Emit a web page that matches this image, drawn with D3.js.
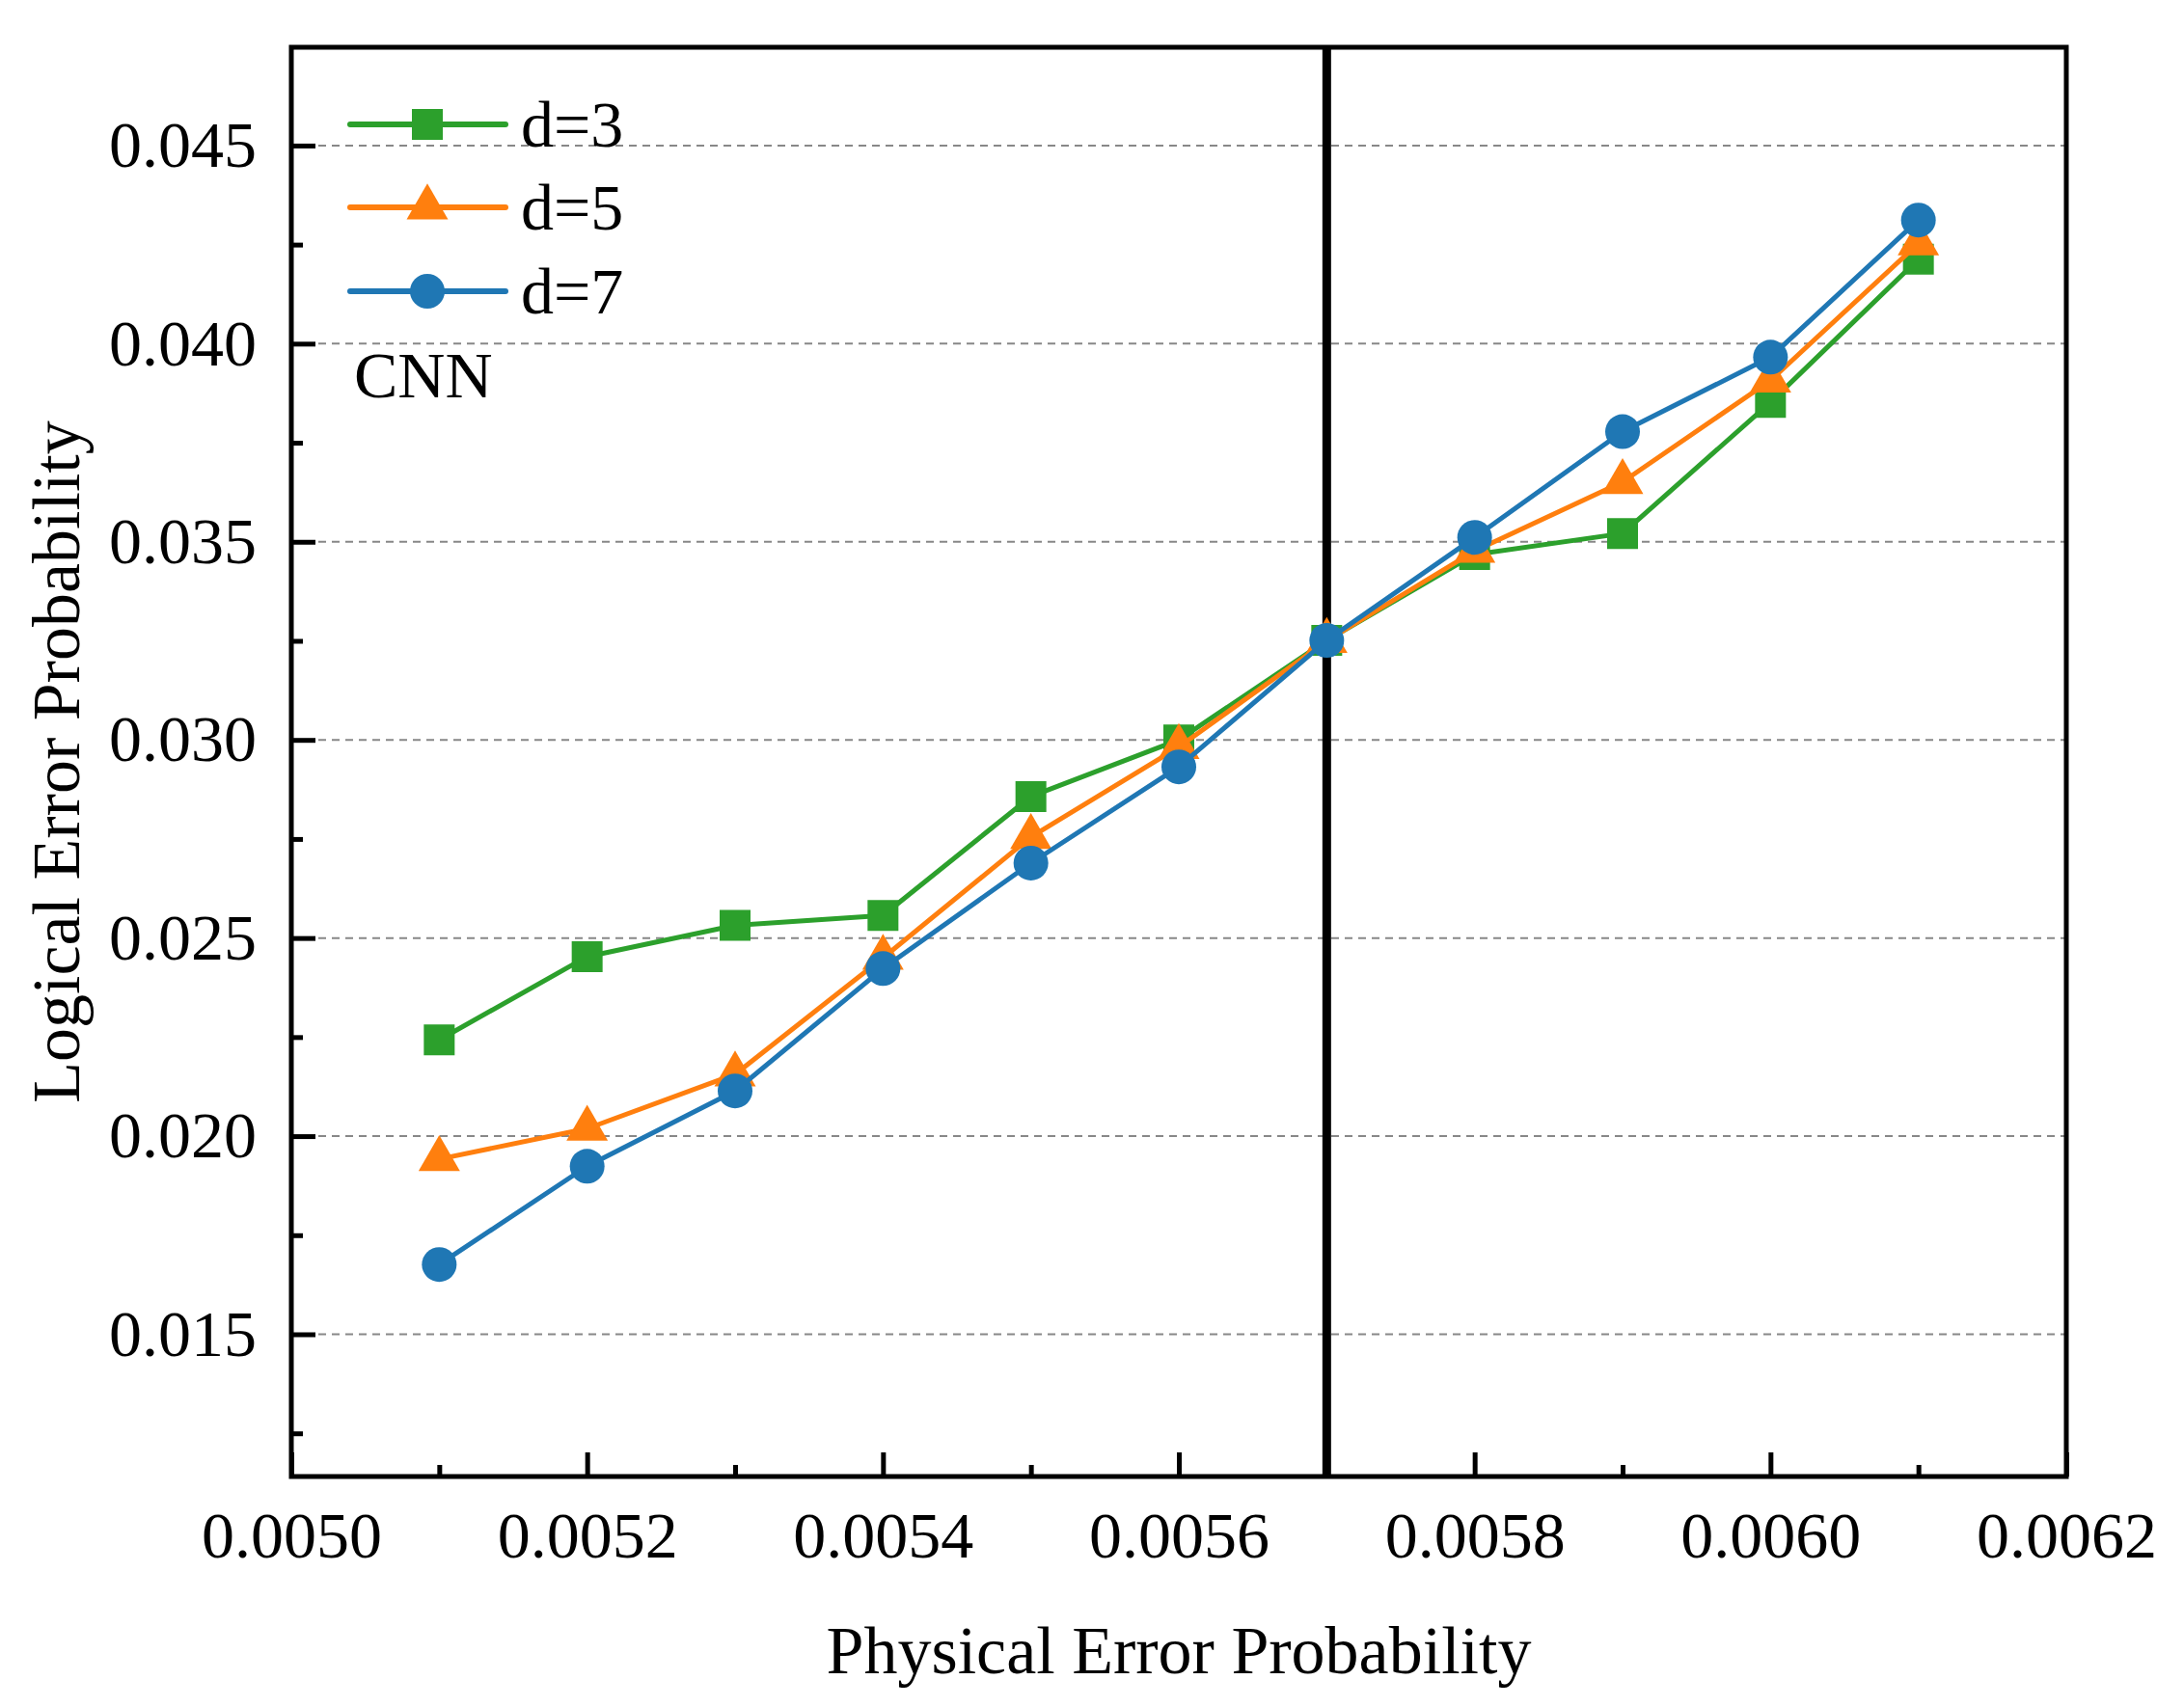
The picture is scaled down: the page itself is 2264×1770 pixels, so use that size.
<!DOCTYPE html>
<html>
<head>
<meta charset="utf-8">
<script src="https://cdn.jsdelivr.net/npm/d3@7"></script>
<style>
  html, body { margin: 0; padding: 0; background: #fff; }
  svg { display: block; }
  text { font-family: "Liberation Serif", "Times New Roman", serif; fill: #000; }
</style>
</head>
<body>
<svg id="chart" width="2264" height="1770"></svg>
<script>
// ---- data ----
const physicalError = [0.0051, 0.0052, 0.0053, 0.0054, 0.0055, 0.0056, 0.0057, 0.0058, 0.0059, 0.0060, 0.0061];
const d3Values = [0.02243, 0.02453, 0.02532, 0.02557, 0.02857, 0.0300, 0.03251, 0.03468, 0.03521, 0.03852, 0.04213];
const d5Values = [0.01942, 0.02019, 0.02156, 0.0245, 0.02755, 0.02982, 0.0325, 0.03477, 0.03651, 0.03907, 0.04253];
const d7Values = [0.01676, 0.01924, 0.02114, 0.02423, 0.02689, 0.02932, 0.03251, 0.03511, 0.03778, 0.03966, 0.04312];
const seriesNames = ["d=3", "d=5", "d=7"];
const xTicks = [0.0050, 0.0052, 0.0054, 0.0056, 0.0058, 0.0060, 0.0062];
const xMinorTicks = [0.0051, 0.0053, 0.0055, 0.0057, 0.0059, 0.0061];
const yTicks = [0.015, 0.020, 0.025, 0.030, 0.035, 0.040, 0.045];
const yMinorTicks = [0.0125, 0.0175, 0.0225, 0.0275, 0.0325, 0.0375, 0.0425];
const thresholdX = 0.0057;
const annotation = "CNN";
const xTitle = "Physical Error Probability";
const yTitle = "Logical Error Probability";

// ---- layout ----
const L = 302, R = 2142, T = 49, B = 1531;
const svg = d3.select("#chart");
const x = d3.scaleLinear().domain([0.0050, 0.0062]).range([L, R]);
const y = d3.scaleLinear().domain([0.01141, 0.04748]).range([B, T]);

const colors = ["#2ca02c", "#ff7f0e", "#1f77b4"];
const symbols = [d3.symbolSquare, d3.symbolTriangle, d3.symbolCircle];
const symSizes = [1024, 800, 1018];

// gridlines
svg.append("g").selectAll("line").data(yTicks).join("line")
  .attr("x1", L).attr("x2", R)
  .attr("y1", d => y(d)).attr("y2", d => y(d))
  .attr("stroke", "#888").attr("stroke-width", 2).attr("stroke-dasharray", "8,6");

// axes
const fs = 68;
const yAxis = svg.append("g").attr("transform", `translate(${L},0)`)
  .call(d3.axisLeft(y).tickValues(yTicks).tickFormat(d3.format(".3f"))
    .tickSizeInner(-25).tickSizeOuter(0).tickPadding(36));
const yMinor = svg.append("g").attr("transform", `translate(${L},0)`)
  .call(d3.axisLeft(y).tickValues(yMinorTicks).tickFormat("")
    .tickSizeInner(-12).tickSizeOuter(0));
const xAxis = svg.append("g").attr("transform", `translate(0,${B})`)
  .call(d3.axisBottom(x).tickValues(xTicks).tickFormat(d3.format(".4f"))
    .tickSizeInner(-25).tickSizeOuter(0).tickPadding(36));
const xMinor = svg.append("g").attr("transform", `translate(0,${B})`)
  .call(d3.axisBottom(x).tickValues(xMinorTicks).tickFormat("")
    .tickSizeInner(-12).tickSizeOuter(0));
[yAxis, yMinor, xAxis, xMinor].forEach(g => {
  g.select(".domain").remove();
  g.selectAll(".tick line").attr("stroke", "#000").attr("stroke-width", 5);
  g.selectAll(".tick text").attr("font-size", fs)
    .attr("font-family", "Liberation Serif, Times New Roman, serif").attr("fill", "#000");
});

// frame
svg.append("rect").attr("x", L).attr("y", T).attr("width", R - L).attr("height", B - T)
  .attr("fill", "none").attr("stroke", "#000").attr("stroke-width", 5);

// threshold vertical line
svg.append("line").attr("x1", x(thresholdX)).attr("x2", x(thresholdX))
  .attr("y1", T).attr("y2", B).attr("stroke", "#000").attr("stroke-width", 9);

// series
const allSeries = [d3Values, d5Values, d7Values];
const line = d3.line().x(d => x(d[0])).y(d => y(d[1]));
allSeries.forEach((vals, i) => {
  const pts = physicalError.map((p, j) => [p, vals[j]]);
  const g = svg.append("g");
  g.append("path").datum(pts).attr("d", line)
    .attr("fill", "none").attr("stroke", colors[i]).attr("stroke-width", 5)
    .attr("stroke-linejoin", "round");
  g.selectAll("path.m").data(pts).join("path").attr("class", "m")
    .attr("transform", d => `translate(${x(d[0])},${y(d[1])})`)
    .attr("d", d3.symbol().type(symbols[i]).size(symSizes[i]))
    .attr("fill", colors[i]);
});

// legend
const legRows = [129, 215, 302];
seriesNames.forEach((name, i) => {
  const g = svg.append("g").attr("transform", `translate(0,${legRows[i]})`);
  g.append("line").attr("x1", 363).attr("x2", 524).attr("y1", 0).attr("y2", 0)
    .attr("stroke", colors[i]).attr("stroke-width", 6).attr("stroke-linecap", "round");
  g.append("path").attr("transform", "translate(443,0)")
    .attr("d", d3.symbol().type(symbols[i]).size(symSizes[i])).attr("fill", colors[i]);
  g.append("text").attr("x", 540).attr("y", 23).attr("font-size", fs).text(name);
});
svg.append("text").attr("x", 367).attr("y", 412).attr("font-size", fs).text(annotation);

// axis titles
svg.append("text").attr("x", (L + R) / 2).attr("y", 1735).attr("text-anchor", "middle")
  .attr("font-size", 70).text(xTitle);
svg.append("text").attr("transform", `translate(82,${(T + B) / 2}) rotate(-90)`)
  .attr("text-anchor", "middle").attr("font-size", 70).text(yTitle);
</script>
</body>
</html>
